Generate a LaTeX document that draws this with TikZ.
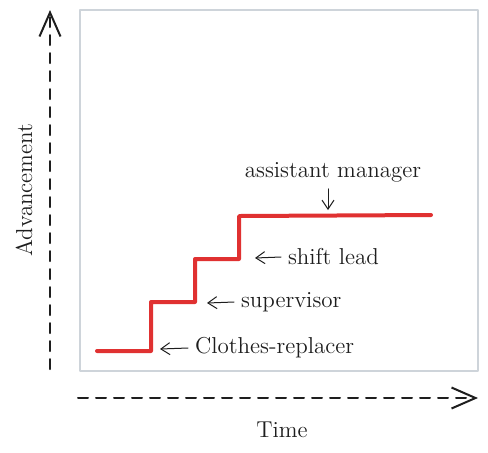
\documentclass[tikz,border=0pt]{standalone}
\usepackage{tikz}
\usetikzlibrary{arrows.meta}
\definecolor{stepred}{HTML}{E03131}
\definecolor{framegray}{HTML}{CED4DA}
\definecolor{ink}{HTML}{1E1E1E}

\begin{document}
\begin{tikzpicture}[line cap=round,line join=round,x=0.5pt,y=-0.5pt,
  axis/.style={ink,line width=1pt,dash pattern=on 5pt off 4pt,-{Straight Barb[length=12pt,width=10.5pt,line width=1pt]}},
  pointer/.style={ink,line width=0.5pt,-{Straight Barb[length=4.5pt,width=6pt]}},
  lbl/.style={ink,font=\fontsize{11.5}{13}\selectfont}]
\useasboundingbox (0,0) rectangle (488,452);
\draw [framegray,line width=1pt] (80,10) rectangle (478,371);
% axes
\coordinate (yfoot) at (50,369);
\coordinate (ytop) at (50,10);
\coordinate (xfoot) at (78,398);
\coordinate (xtop) at (478,398);
\draw [axis] (yfoot)--(ytop);
\draw [axis] (xfoot)--(xtop);
\node [lbl,rotate=90] (adv) at (24,190) {Advancement};
\node [lbl] (time) at (282,430) {Time};
% career steps
\draw [stepred,line width=2pt] (97,351)--(151,351)--(151,302)--(195,302)--(195,259)--(239,259)--(239,216)--(431,215);
\coordinate (s1) at (160,349);
\coordinate (s2) at (207,303);
\coordinate (s3) at (255,258);
\coordinate (s4) at (328,210);
\node [lbl,right] (clerk) at (188,348) {Clothes-replacer};
\node [lbl,right] (super) at (234,302) {supervisor};
\node [lbl,right] (shift) at (281,257) {shift lead};
\node [lbl] (asst) at (333,172) {assistant manager};
\draw [pointer] (clerk.west)--(s1);
\draw [pointer] (super.west)--(s2);
\draw [pointer] (shift.west)--(s3);
\draw [pointer] (asst.south -| s4)--(s4);
\end{tikzpicture}
\end{document}
